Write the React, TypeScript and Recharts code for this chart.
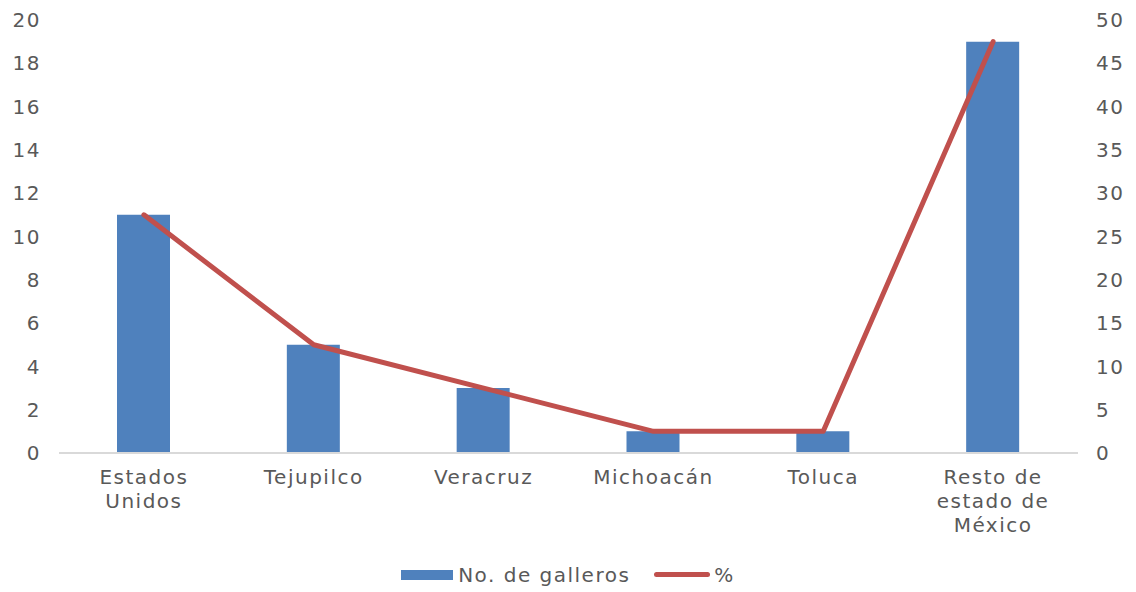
import React from "react";
import { ComposedChart, Bar, Line, XAxis, YAxis, Legend } from "recharts";

const categories = ["Estados\nUnidos", "Tejupilco", "Veracruz", "Michoacán", "Toluca", "Resto de\nestado de\nMéxico"];
const galleros = [11, 5, 3, 1, 1, 19];
const percent = [27.5, 12.5, 7.5, 2.5, 2.5, 47.5];
const leftTicks = [0, 2, 4, 6, 8, 10, 12, 14, 16, 18, 20];
const rightTicks = [0, 5, 10, 15, 20, 25, 30, 35, 40, 45, 50];

const data = categories.map((c, i) => ({ name: c, galleros: galleros[i], pct: percent[i] }));

const FONT = "'DejaVu Sans', 'Noto Sans', sans-serif";
const TXT = "#595959";
const LS = 1.5;

const XTick = (props: any) => {
  const { x, y, payload } = props;
  const lines = String(payload.value).split("\n");
  return (
    <text x={x} y={y + 23} textAnchor="middle" fill={TXT} fontSize={20} fontFamily={FONT} letterSpacing={LS}>
      {lines.map((l: string, i: number) => (
        <tspan key={i} x={x} dy={i === 0 ? 0 : 24}>{l}</tspan>
      ))}
    </text>
  );
};

const LegendContent = () => (
  <div style={{ display: "flex", justifyContent: "center", alignItems: "center", fontFamily: FONT, fontSize: 20, color: TXT, height: 27, letterSpacing: LS }}>
    <span style={{ display: "inline-block", width: 52, height: 10, background: "#4F81BD", marginRight: 5 }} />
    <span style={{ marginRight: 24 }}>No. de galleros</span>
    <span style={{ display: "inline-block", width: 56, height: 5, background: "#C0504D", borderRadius: 3, marginRight: 4 }} />
    <span>%</span>
  </div>
);

export default function App() {
  return (
    <div style={{ position: "absolute", left: 0, top: 0, background: "#fff" }}>
      <ComposedChart width={1136} height={592} data={data} margin={{ top: 20, right: 0, bottom: 0, left: 0 }}>
        <XAxis
          dataKey="name"
          tick={<XTick />}
          tickLine={false}
          axisLine={{ stroke: "#D9D9D9", strokeWidth: 2 }}
          interval={0}
          height={112}
        />
        <YAxis
          yAxisId="left"
          domain={[0, 20]}
          ticks={leftTicks}
          width={59}
          axisLine={false}
          tickLine={false}
          tick={{ fill: TXT, fontSize: 20, fontFamily: FONT, dx: -10, letterSpacing: LS }}
          interval={0}
        />
        <YAxis
          yAxisId="right"
          orientation="right"
          domain={[0, 50]}
          ticks={rightTicks}
          width={58}
          axisLine={false}
          tickLine={false}
          tick={{ fill: TXT, fontSize: 20, fontFamily: FONT, textAnchor: "start", dx: 10, letterSpacing: LS }}
          interval={0}
        />
        <Bar yAxisId="left" dataKey="galleros" name="No. de galleros" fill="#4F81BD" barSize={53} isAnimationActive={false} />
        <Line
          yAxisId="right"
          dataKey="pct"
          name="%"
          stroke="#C0504D"
          strokeWidth={5}
          strokeLinecap="round"
          strokeLinejoin="round"
          dot={false}
          activeDot={false}
          type="linear"
          isAnimationActive={false}
        />
        <Legend verticalAlign="bottom" content={<LegendContent />} wrapperStyle={{ bottom: 4 }} />
      </ComposedChart>
    </div>
  );
}
